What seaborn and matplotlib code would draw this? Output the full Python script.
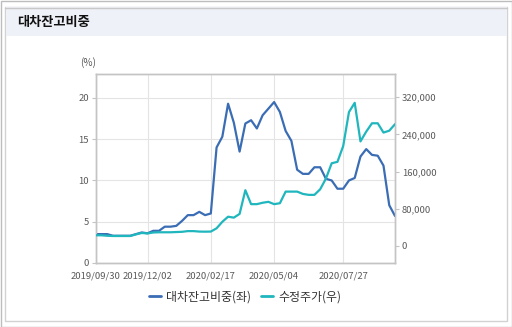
import matplotlib
matplotlib.use("Agg")
import matplotlib.pyplot as plt
import matplotlib.dates as mdates
from matplotlib.patches import Rectangle
from matplotlib.lines import Line2D
from matplotlib.ticker import FuncFormatter, FixedLocator
import numpy as np
import pandas as pd
import seaborn as sns

# weekly observations, 2019/09/30 .. 2020/09/28
dates = pd.date_range("2019-09-30", "2020-09-28", freq="7D")

# short-sale balance ratio (%), left axis
ratio = [3.5, 3.5, 3.5, 3.3, 3.3, 3.3, 3.3, 3.5, 3.7, 3.6,
         3.9, 3.9, 4.4, 4.4, 4.5, 5.1, 5.8, 5.8, 6.2, 5.8,
         6.0, 14.0, 15.3, 19.3, 17.0, 13.5, 16.9, 17.3, 16.3, 17.9,
         18.7, 19.5, 18.3, 16.0, 14.8, 11.3, 10.8, 10.8, 11.6, 11.6,
         10.2, 10.0, 9.0, 9.0, 10.0, 10.3, 12.9, 13.8, 13.1, 13.0,
         11.8, 7.0, 5.7]

# adjusted share price, right axis
price = [23000, 23000, 22000, 21500, 21500, 21500, 21500, 25000, 28000, 27000,
         29000, 29500, 29500, 29500, 30000, 30500, 32000, 32000, 31000, 30800,
         31000, 38000, 52000, 63000, 61000, 69000, 120000, 90000, 90000, 93000,
         95000, 90000, 92000, 117000, 117000, 117000, 112000, 110000, 110000, 122000,
         145000, 178000, 181000, 215000, 288000, 308000, 225000, 246000, 264000, 264000,
         244000, 248000, 262000]

tick_dates = ["2019-09-30", "2019-12-02", "2020-02-17", "2020-05-04", "2020-07-27"]
left_ticks = [0, 5, 10, 15, 20]
right_ticks = [0, 80000, 160000, 240000, 320000]
series_names = ["대차잔고비중(좌)", "수정주가(우)"]
title = "대차잔고비중"

BLUE = "#3b6db5"
TEAL = "#1fb6bd"
GRID = "#e4e4e4"
FRAME = "#c4c4c4"
TXT = "#5a5a5a"

sns.set_theme(style="white")
plt.rcParams["font.family"] = ["Noto Sans CJK KR", "DejaVu Sans"]

df = pd.DataFrame({"date": dates, "ratio": ratio, "price": price})

W, H = 512, 327
fig = plt.figure(figsize=(W / 100, H / 100), dpi=100)
fig.patch.set_facecolor("white")

# outer border, panel box and header band
fig.patches.append(Rectangle((0.5 / W, 0.5 / H), (W - 1) / W, (H - 1) / H,
                             transform=fig.transFigure, fill=False,
                             edgecolor="#bdbdbd", lw=1.0, zorder=0))
fig.patches.append(Rectangle((5 / W, 1 - 321 / H), 502 / W, 314 / H,
                             transform=fig.transFigure, fill=False,
                             edgecolor="#d2d2d2", lw=1.0, zorder=0))
fig.patches.append(Rectangle((5.5 / W, 1 - 36 / H), 501 / W, 28.5 / H,
                             transform=fig.transFigure, facecolor="#eef1f7",
                             edgecolor="none", zorder=0))
fig.add_artist(Line2D([5 / W, 507 / W], [1 - 7.5 / H, 1 - 7.5 / H],
                      transform=fig.transFigure, color="#c8c8c8", lw=1.0))
fig.text(17 / W, 1 - 22 / H, title, fontsize=9.5, fontweight="bold",
         color="#111111", va="center", ha="left")

ax = fig.add_axes([95.7 / W, 1 - 263 / H, (395 - 95.7) / W, (263 - 74) / H])
ax2 = ax.twinx()

sns.lineplot(data=df, x="date", y="ratio", ax=ax, color=BLUE, lw=1.6, zorder=3)
sns.lineplot(data=df, x="date", y="price", ax=ax2, color=TEAL, lw=1.6, zorder=3)

ax.set_xlim(dates[0], dates[-1])
ax.set_ylim(0, 22.9)
ax2.set_ylim(-36600, 370000)

ax.xaxis.set_major_locator(FixedLocator(mdates.date2num(pd.to_datetime(tick_dates))))
ax.xaxis.set_major_formatter(mdates.DateFormatter("%Y/%m/%d"))
ax.set_yticks(left_ticks)
ax2.set_yticks(right_ticks)
ax2.yaxis.set_major_formatter(FuncFormatter(lambda v, p: f"{int(v):,}"))

ax.grid(True, color=GRID, lw=0.8)
ax2.grid(False)
ax.set_xlabel("")
ax.set_ylabel("")
ax2.set_ylabel("")
ax.set_facecolor("white")

for a in (ax, ax2):
    for s in a.spines.values():
        s.set_color(FRAME)
        s.set_linewidth(1.0)
    a.tick_params(colors=TXT, labelsize=6.8, length=3, width=0.8, pad=2,
                  color=FRAME)
ax.tick_params(axis="x", labelsize=6.8, pad=3)
ax.tick_params(axis="y", left=True)
ax2.tick_params(axis="y", right=True)

ax.text(-0.025, 1.06, "(%)", transform=ax.transAxes, fontsize=7.2,
        color=TXT, ha="center", va="center")

handles = [Line2D([], [], color=BLUE, lw=2.0), Line2D([], [], color=TEAL, lw=2.0)]
fig.legend(handles, series_names, loc="center", bbox_to_anchor=(245 / W, 1 - 297 / H),
           ncol=2, frameon=False, fontsize=8.6, handlelength=1.0, handletextpad=0.4,
           columnspacing=0.9, labelcolor="#333333")

fig.savefig("out.png", dpi=100, facecolor="white")
